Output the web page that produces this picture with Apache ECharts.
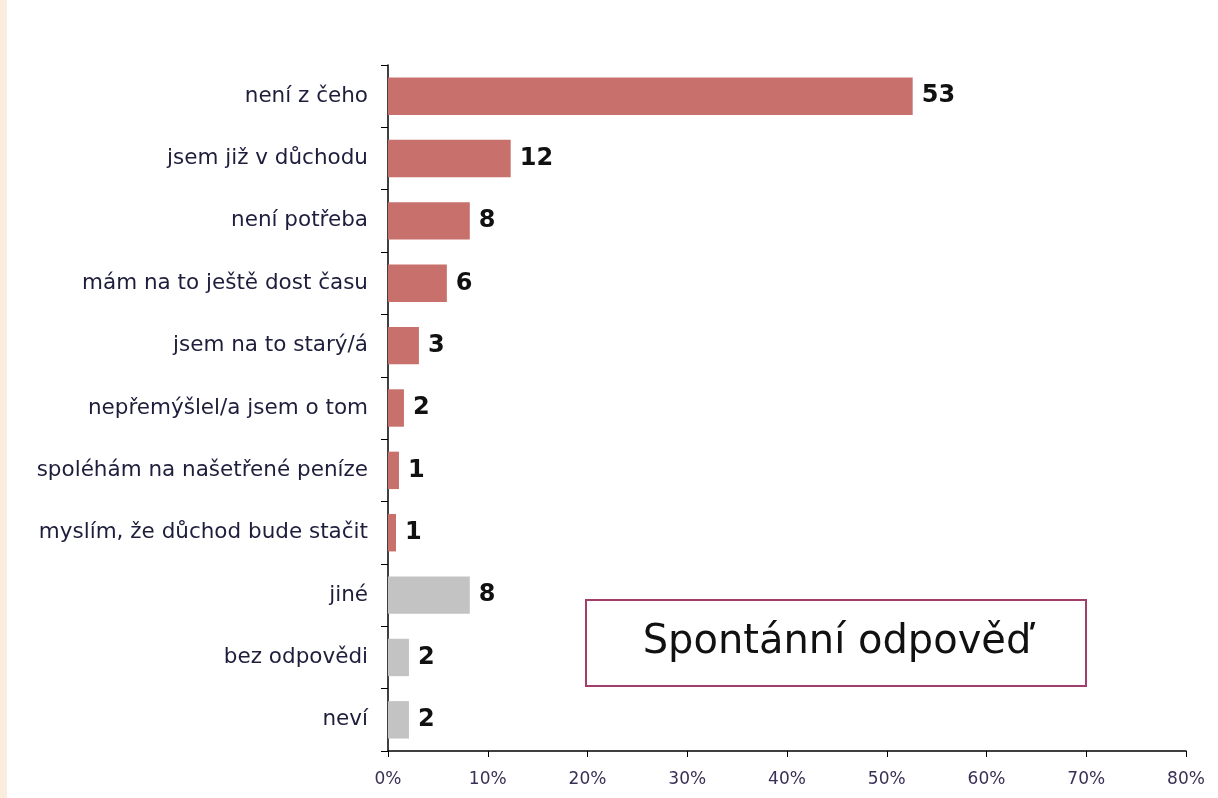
<!DOCTYPE html>
<html><head><meta charset="utf-8">
<script src="https://cdn.jsdelivr.net/npm/echarts@6/dist/echarts.min.js"></script>
<style>html,body{margin:0;padding:0;background:#fff}#strip{position:absolute;left:0;top:0;width:7px;height:798px;background:#fbeddd}#c{width:1218px;height:798px}</style>
</head><body><div id="strip"></div><div id="c"></div>
<script>
const categories = ["není z čeho","jsem již v důchodu","není potřeba","mám na to ještě dost času","jsem na to starý/á","nepřemýšlel/a jsem o tom","spoléhám na našetřené peníze","myslím, že důchod bude stačit","jiné","bez odpovědi","neví"];
const values = [52.6,12.3,8.2,5.9,3.1,1.6,1.1,0.8,8.2,2.1,2.1];
const groups = ["main","main","main","main","main","main","main","main","other","other","other"];
const xTicks = [0,10,20,30,40,50,60,70,80];
const boxText = "Spontánní odpověď";
const colors = {main:"#c8706b", other:"#c3c3c3"};
const chart = echarts.init(document.getElementById('c'));
chart.setOption({
  animation:false,
  grid:{left:388,right:32,top:65,bottom:47,containLabel:false},
  xAxis:{type:'value',min:xTicks[0],max:xTicks[xTicks.length-1],interval:10,
    axisLine:{show:true,lineStyle:{color:'#000',width:1.5}},
    axisTick:{show:true,length:6,lineStyle:{color:'#000'}},
    splitLine:{show:false},
    axisLabel:{formatter:'{value}%',color:'#3a2f55',fontFamily:'DejaVu Sans',fontSize:17,margin:20}},
  yAxis:{type:'category',inverse:true,data:categories,
    axisLine:{lineStyle:{color:'#000',width:1.5}},
    axisTick:{show:true,length:7,lineStyle:{color:'#000'}},
    axisLabel:{color:'#1e1e3c',fontFamily:'DejaVu Sans',fontSize:21.5,margin:20}},
  series:[{type:'bar',barCategoryGap:'40%',
    data:values.map((v,i)=>({value:v,itemStyle:{color:colors[groups[i]]}})),
    label:{show:true,position:'right',distance:9,formatter:p=>Math.round(p.value),
      fontFamily:'DejaVu Sans',fontWeight:'bold',fontSize:24,color:'#111'}}],
  graphic:[{type:'group',left:585,top:599,children:[
    {type:'rect',shape:{x:0,y:0,width:500,height:86},style:{fill:'#fff',stroke:'#a23e6c',lineWidth:2}},
    {type:'text',x:251,y:43,style:{text:boxText,fontFamily:'DejaVu Sans',fontSize:40,fill:'#111',align:'center',verticalAlign:'middle'}}
  ]}]
});
</script></body></html>
